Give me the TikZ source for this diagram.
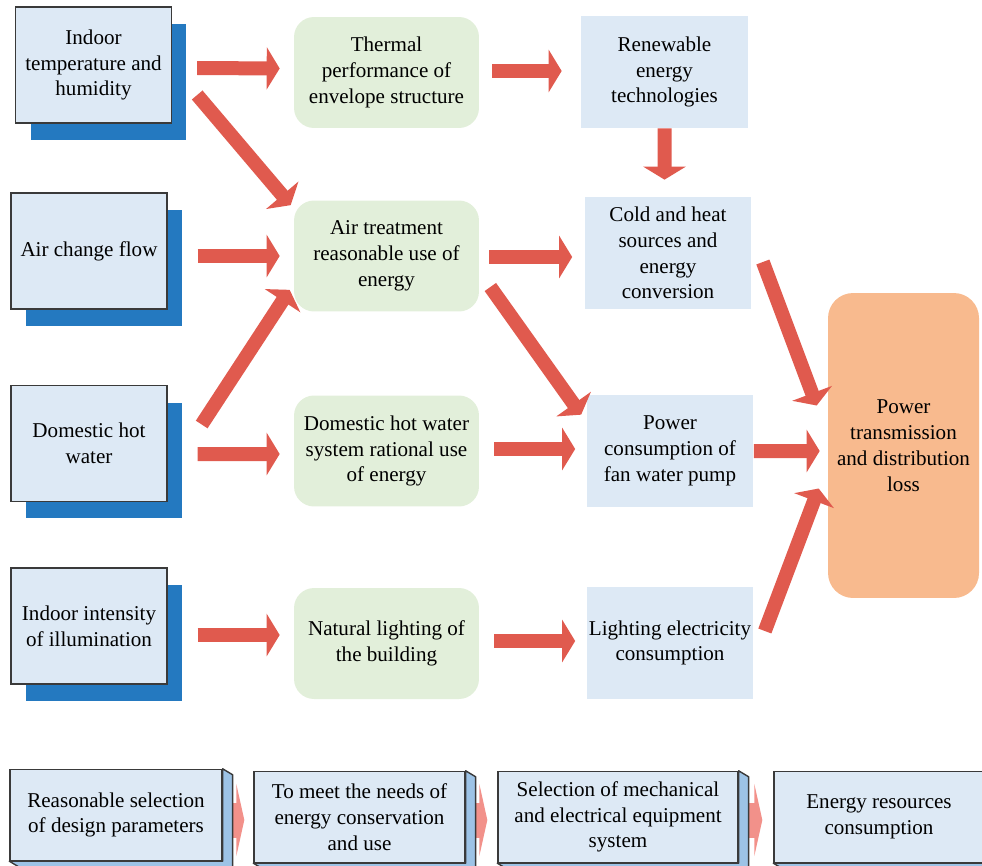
\documentclass[tikz,border=0pt]{standalone}
\usepackage{fontspec}
\setmainfont{Liberation Serif}
\usepackage{tikz}
\usetikzlibrary{backgrounds,calc,shadows,arrows.meta,positioning}
\definecolor{boxblue}{HTML}{DDE9F5}
\definecolor{shadeblue}{HTML}{2479C0}
\definecolor{boxgreen}{HTML}{E2EFDA}
\definecolor{lossorange}{HTML}{F8BA8E}
\definecolor{flowred}{HTML}{E05A4E}
\definecolor{stagered}{HTML}{F2918A}
\definecolor{sideblue}{HTML}{9DC3E6}
\definecolor{edgegray}{HTML}{3A3A3A}
\tikzstyle{factor}=[rectangle,draw=edgegray,line width=0.8pt,fill=boxblue,
minimum width=3.12cm,minimum height=2.32cm,align=center,
drop shadow={shadow xshift=0.3cm,shadow yshift=-0.34cm,fill=shadeblue,opacity=1}]
\tikzstyle{measure}=[rectangle,rounded corners=0.4cm,fill=boxgreen,
minimum width=3.7cm,minimum height=2.22cm,align=center]
\tikzstyle{system}=[rectangle,fill=boxblue,minimum width=3.34cm,
minimum height=2.24cm,inner xsep=1pt,align=center]
\tikzstyle{loss}=[rectangle,rounded corners=0.5cm,fill=lossorange,
minimum width=3.02cm,minimum height=6.1cm,align=center]
\tikzstyle{stage}=[rectangle,draw=edgegray,line width=0.8pt,fill=boxblue,
minimum height=1.82cm,align=center]
\tikzstyle{flow}=[draw=flowred,line width=0.28cm,-{Triangle[length=0.26cm,width=0.84cm]}]
\tikzstyle{stageflow}=[draw=stagered,line width=0.7cm,-{Triangle[length=0.16cm,width=1.44cm]}]
\begin{document}
\begin{tikzpicture}[x=0.02cm,y=-0.02cm,font=\fontsize{12}{14.7}\selectfont]
    \useasboundingbox (0,0) rectangle (982,865);

    \node[factor](temp) at (93.5,65) {Indoor\\temperature and\\humidity};
    \node[factor](airflow) at (89,251) {Air change flow};
    \node[factor](hotwater) at (89,443.5) {Domestic hot\\water};
    \node[factor](light) at (89,626) {Indoor intensity\\of illumination};

    \node[measure](envelope) at (386.5,72.5) {Thermal\\performance of\\envelope structure};
    \node[measure](airtreat) at (386.5,256) {Air treatment\\reasonable use of\\energy};
    \node[measure](watersys) at (386.5,451) {Domestic hot water\\system rational use\\of energy};
    \node[measure](daylight) at (386.5,643.5) {Natural lighting of\\the building};

    \node[system](renew) at (664.5,72) {Renewable\\energy\\technologies};
    \node[system](coldheat) at (668,253) {Cold and heat\\sources and\\energy\\conversion};
    \node[system](pump) at (670,451) {Power\\consumption of\\fan water pump};
    \node[system](lighting) at (670,643) {Lighting electricity\\consumption};

    \node[loss](power) at (903.5,445.5) {Power\\transmission\\and distribution\\loss};

    \node[stage,minimum width=4.24cm](sel) at (116,815) {Reasonable selection\\of design parameters};
    \node[stage,minimum width=4.22cm](need) at (359.5,817) {To meet the needs of\\energy conservation\\and use};
    \node[stage,minimum width=4.8cm](equip) at (618,817) {Selection of mechanical\\and electrical equipment\\system};
    \node[stage,minimum width=4.2cm](res) at (879,817) {Energy resources\\consumption};

    \draw[flow] ($(temp.east)+(25,3)$) -- ($(envelope.west)+(-14,-4)$);
    \draw[flow] ($(temp.east)+(25,30)$) -- ($(airtreat.north west)+(-3,5)$);
    \draw[flow] ($(airflow.east)+(30,5)$) -- ($(airtreat.west)+(-14,0)$);
    \draw[flow] ($(hotwater.east)+(34,-19)$) -- ($(airtreat.south west)+(-4,-22)$);
    \draw[flow] ($(hotwater.east)+(30,10.5)$) -- ($(watersys.west)+(-14,3)$);
    \draw[flow] ($(light.east)+(30,9)$) -- ($(daylight.west)+(-14,-8.5)$);

    \draw[flow] ($(envelope.east)+(13,-1.5)$) -- ($(renew.west)+(-19,-1)$);
    \draw[flow] (renew.south) -- ($(coldheat.north)+(-3.5,-17)$);
    \draw[flow] ($(airtreat.east)+(10,1)$) -- ($(coldheat.west)+(-12,4)$);
    \draw[flow] ($(airtreat.east)+(11,31)$) -- ($(pump.north west)+(-5,20)$);
    \draw[flow] ($(watersys.east)+(15,-2)$) -- ($(pump.west)+(-11,-2)$);
    \draw[flow] ($(daylight.east)+(15,-2.5)$) -- ($(lighting.west)+(-11,-2)$);

    \draw[flow] ($(coldheat.east)+(11,9)$) -- ($(power.west)+(-11,-40)$);
    \draw[flow] (pump.east) -- ($(power.west)+(-8,5.5)$);
    \draw[flow] ($(lighting.east)+(11,-12)$) -- ($(power.west)+(-9,43)$);

    \begin{scope}[on background layer]
      \draw[stageflow] ($(sel.east)+(0,5)$) -- ($(need.west)+(-9,3)$);
      \draw[stageflow] ($(need.east)+(0,3)$) -- ($(equip.west)+(-10,3)$);
      \draw[stageflow] ($(equip.east)+(0,3)$) -- ($(res.west)+(-11,3)$);
      \foreach \b in {sel,need,equip,res}
        \draw[draw=edgegray,line width=0.8pt,fill=sideblue,line join=round]
          (\b.north east) -- ++(10,6) -- ($(\b.south east)+(10,6)$)
          -- ($(\b.south west)+(10,6)$) -- (\b.south west) -- (\b.south east) -- cycle;
    \end{scope}
\end{tikzpicture}
\end{document}
